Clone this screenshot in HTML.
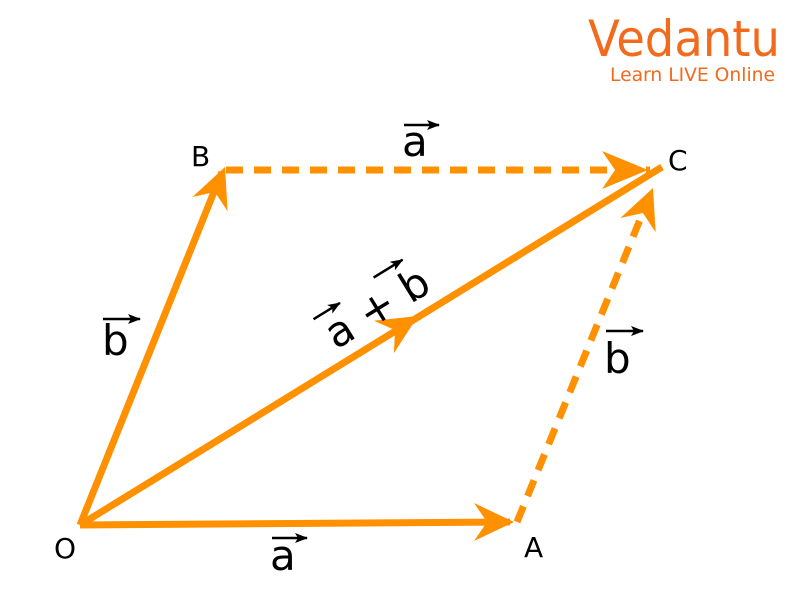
<!DOCTYPE html>
<html><head><meta charset="utf-8"><style>
html,body{margin:0;padding:0;background:#fff;}
svg{display:block;}
text{font-family:"DejaVu Sans","Liberation Sans",sans-serif;}
</style></head><body>
<svg width="793" height="607" viewBox="0 0 793 607" xmlns="http://www.w3.org/2000/svg">
<defs>
<marker id="ah" markerWidth="14" markerHeight="12" refX="12" refY="6" orient="auto" markerUnits="userSpaceOnUse"><path d="M0,1 L13,6 L0,11 L3,6 Z" fill="#000"/></marker>
</defs>
<text x="588" y="56" font-size="50" fill="#F26B1D" textLength="192" lengthAdjust="spacingAndGlyphs">Vedantu</text>
<text x="610" y="81" font-size="19" fill="#F26B1D" textLength="165" lengthAdjust="spacingAndGlyphs">Learn LIVE Online</text>

<g stroke="#FF9000" stroke-width="7" fill="none" stroke-linecap="butt">
<line x1="80" y1="525" x2="222" y2="172"/>
<line x1="80" y1="525" x2="510" y2="522"/>
<line x1="80" y1="525" x2="662" y2="167"/>
<line x1="226" y1="170" x2="650" y2="170" stroke-dasharray="17,11"/>
<line x1="517" y1="522" x2="650" y2="195" stroke-dasharray="17,11"/>
</g>
<g fill="#FF9000">
<polygon points="0,0 -40,-19 -27,0 -40,19" transform="translate(225,167) rotate(-68)"/>
<polygon points="0,0 -40,-19 -27,0 -40,19" transform="translate(514,522) rotate(0)"/>
<polygon points="0,0 -46,-19 -33,0 -46,19" transform="translate(648,170) rotate(0)"/>
<polygon points="0,0 -40,-19 -27,0 -40,19" transform="translate(653,188) rotate(-68)"/>
<polygon points="0,0 -40,-19 -27,0 -40,19" transform="translate(418,316) rotate(-31.6)"/>
</g>

<g font-size="28" fill="#000">
<text x="54" y="558">O</text>
<text x="524" y="557">A</text>
<text x="191" y="166">B</text>
<text x="668" y="170">C</text>
</g>

<g font-size="42" fill="#000" stroke="#000" stroke-width="2.5">
<text x="270" y="570" stroke="none">a</text>
<line x1="272" y1="538" x2="307" y2="538" marker-end="url(#ah)"/>
<text x="402" y="156" stroke="none">a</text>
<line x1="404" y1="125" x2="439" y2="125" marker-end="url(#ah)"/>
<text x="102" y="355" stroke="none">b</text>
<line x1="103" y1="319" x2="140" y2="319" marker-end="url(#ah)"/>
<text x="604" y="373" stroke="none">b</text>
<line x1="606" y1="331" x2="643" y2="331" marker-end="url(#ah)"/>
</g>
<g transform="translate(336,350) rotate(-31.6)" fill="#000">
<text x="0" y="0" font-size="42">a + b</text>
<line x1="-3" y1="-38" x2="28" y2="-38" stroke="#000" stroke-width="2.5" marker-end="url(#ah)"/>
<line x1="70" y1="-42" x2="104" y2="-42" stroke="#000" stroke-width="2.5" marker-end="url(#ah)"/>
</g>
</svg>
</body></html>
